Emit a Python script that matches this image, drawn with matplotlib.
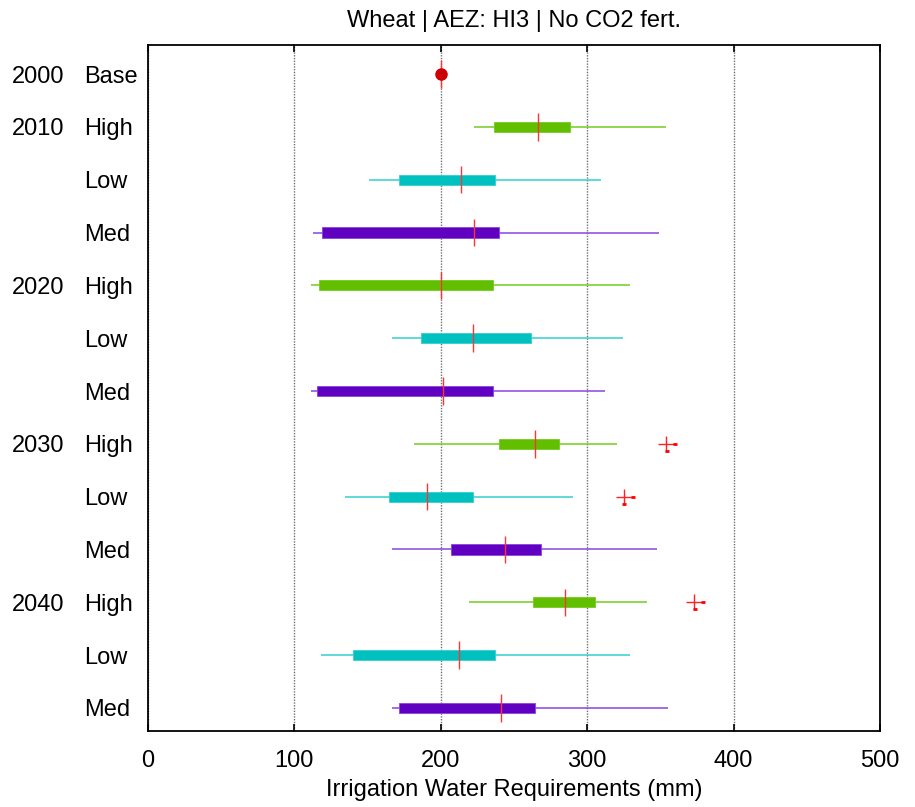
import matplotlib
matplotlib.use("Agg")
import matplotlib.pyplot as plt
import matplotlib.transforms as mtransforms

plt.rcParams['font.family'] = ['Liberation Sans', 'DejaVu Sans']

# Row labels (top to bottom)
years = ["2000", "2010", "", "", "2020", "", "", "2030", "", "", "2040", "", ""]
scenarios = ["Base", "High", "Low", "Med", "High", "Low", "Med",
             "High", "Low", "Med", "High", "Low", "Med"]

# Baseline value (2000)
base_value = 200

# Box statistics for rows 2..13: whisker low, Q1, median, Q3, whisker high
whisker_lo = [223, 151, 113, 111, 167, 111, 182, 134.5, 167, 219.5, 118, 167]
q1 = [236.5, 171.5, 119, 116.5, 186.5, 115.5, 240, 164.5, 207, 263, 140, 171.5]
median = [266.5, 213.5, 223, 200, 222, 201.5, 264.5, 190.5, 244, 285, 212.5, 241]
q3 = [288, 237, 240, 235.5, 261.5, 235.5, 281, 222, 268.5, 305.5, 237, 264.5]
whisker_hi = [354, 309.5, 349, 329, 324.5, 312, 320.5, 290.5, 348, 341, 329, 355]
outliers = {7: [354], 8: [325], 10: [373]}

box_colors = {"High": "#62bf00", "Low": "#00c0c0", "Med": "#6000c0"}
line_colors = {"High": "#74cc22", "Low": "#33d0d0", "Med": "#8a44e0"}

xticks = [0, 100, 200, 300, 400, 500]
FS = 17

W, H = 915, 807
fig = plt.figure(figsize=(W / 100, H / 100), dpi=100)
ax = fig.add_axes([148 / W, 1 - 731 / H, 732 / W, 686 / H])

ax.set_xlim(0, 500)
ax.set_ylim(12 + 23 / 52.83, -29 / 52.83)

# dotted vertical grid
for x in xticks:
    ax.axvline(x, color="#707070", lw=1.0, ls=(0, (1, 1)), zorder=0)

box_h = 0.19
med_h = 0.26

# baseline point
ax.vlines(base_value, -med_h, med_h, color="#ff3333", lw=1.0, zorder=4)
ax.plot([base_value], [0], "o", color="#cc0000", ms=8, zorder=5)

for i in range(len(q1)):
    y = i + 1
    sc = scenarios[y]
    ax.hlines(y, whisker_lo[i], whisker_hi[i], color=line_colors[sc], lw=1.1, zorder=2)
    ax.barh(y, q3[i] - q1[i], left=q1[i], height=box_h,
            color=box_colors[sc], edgecolor=line_colors[sc], lw=0.6, zorder=3)
    ax.vlines(median[i], y - med_h, y + med_h, color="#ff3333", lw=1.0, zorder=4)

for y, vals in outliers.items():
    for v in vals:
        ax.plot([v], [y], "+", color="#ff2222", ms=11, mew=1.0, zorder=5)
        dx = mtransforms.offset_copy(ax.transData, fig=fig, x=6.5, y=0, units="points")
        ax.plot([v], [y], "_", color="#ff0000", ms=3.5, mew=2.0, transform=dx, zorder=5)
        dy = mtransforms.offset_copy(ax.transData, fig=fig, x=0.5, y=-5, units="points")
        ax.plot([v], [y], "_", color="#ff0000", ms=3.5, mew=2.0, transform=dy, zorder=5)

# axes styling
for s in ax.spines.values():
    s.set_linewidth(1.3)
    s.set_color("black")

ax.set_xticks(xticks)
ax.set_xticklabels([str(t) for t in xticks], fontsize=FS)
ax.tick_params(axis="x", direction="in", top=True, length=5, width=1.2, pad=14)
ax.set_yticks([])

# two-column row labels
trans = ax.get_yaxis_transform()
for y, (yr, sc) in enumerate(zip(years, scenarios)):
    if yr:
        ax.text(-136 / 732, y, yr, transform=trans, ha="left",
                va="center_baseline", fontsize=FS)
    ax.text(-64 / 732, y, sc, transform=trans, ha="left",
            va="center_baseline", fontsize=FS)

fig.text(514 / W, 1 - 790 / H, "Irrigation Water Requirements (mm)",
         ha="center", va="center", fontsize=FS)
fig.text(514 / W, 1 - 21 / H, "Wheat | AEZ: HI3 | No CO2 fert.",
         ha="center", va="center", fontsize=FS)

fig.savefig("out.png", dpi=100)
